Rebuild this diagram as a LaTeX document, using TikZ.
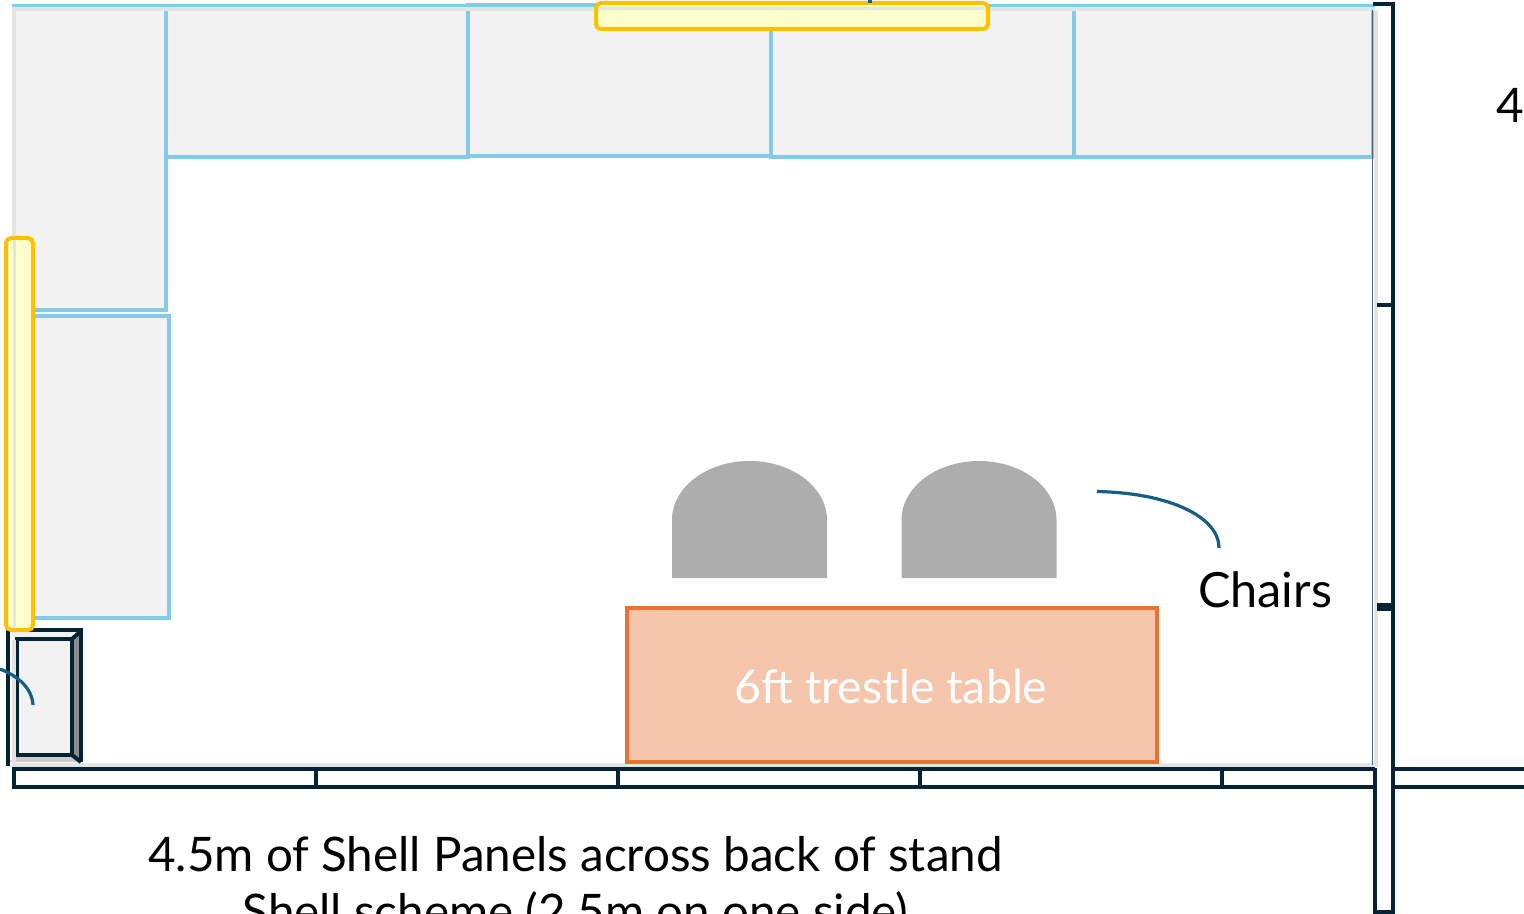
\documentclass[tikz,border=0pt]{standalone}
\usepackage{fontspec}
\setmainfont{Lato}
\definecolor{panelfill}{HTML}{F2F2F2}
\definecolor{panelblue}{HTML}{83CAEB}
\definecolor{wallink}{HTML}{042433}
\definecolor{standgrey}{HTML}{E4E4E4}
\definecolor{goldline}{HTML}{FFC000}
\definecolor{paleyellow}{HTML}{FFFFCC}
\definecolor{chairgrey}{HTML}{ADADAD}
\definecolor{tablefill}{HTML}{F5C6AC}
\definecolor{tableline}{HTML}{E97132}
\definecolor{leader}{HTML}{156082}
\tikzset{
  panel/.style={draw=panelblue,fill=panelfill,line width=2pt},
  standline/.style={draw=standgrey,line width=2pt},
  wall/.style={draw=wallink,line width=2pt},
  divider/.style={draw=wallink,line width=1.75pt},
  shelf/.style={draw=goldline,fill=paleyellow,line width=2pt,rounded corners=2.5pt},
  chairshape/.style={fill=chairgrey,draw=none},
  leaderline/.style={draw=leader,line width=1.6pt},
  label/.style={inner sep=0pt,font=\fontsize{23.8}{28}\selectfont,text=black},
}
\begin{document}
\begin{tikzpicture}[x=0.5pt,y=-0.5pt]
\useasboundingbox (0,0) rectangle (1524,914);
\clip (0,0) rectangle (1524,914);
% shell panels
\draw[panel] (14,6) rectangle (166,310);
\draw[panel] (166,6) rectangle (468,157);
\draw[panel] (468,5) rectangle (771,156);
\draw[panel] (771,6) rectangle (1074,157);
\draw[panel] (1074,6) rectangle (1373,157);
\draw[panel] (14,316) rectangle (169,618);
% stand outline
\draw[standline] (14,8.7) -- (1375,8.7);
\draw[standline] (14,7) -- (14,765) -- (1375.5,765) -- (1375.5,10);
\draw[draw=wallink!70,line width=0.4pt] (1372.5,10) -- (1372.5,765);
% right wall
\draw[wall] (1373,4) -- (1393,4) -- (1393,768);
\draw[wall] (1377,305) -- (1393,305);
\draw[draw=wallink,line width=3.6pt] (1377,607) -- (1393,607);
\draw[wall] (1375,768) -- (1375,912) -- (1393,912) -- (1393,768);
% back wall
\draw[wall] (1375,769) -- (14,769) -- (14,787) -- (1375,787);
\draw[wall] (1393,769) -- (1524,769);
\draw[wall] (1393,787) -- (1524,787);
\foreach \wx in {316,618,920,1222}{
  \draw[divider] (\wx,768) -- (\wx,788);
}
% door
\fill[white] (8,630) rectangle (81,762);
\fill[panelfill] (17,639) rectangle (72,755);
\fill[panelfill] (9,631) -- (81,631) -- (72,639) -- (17,639) -- cycle;
\fill[black!45] (72,639) -- (81,631) -- (81,762) -- (72,755) -- cycle;
\fill[black!20] (17,755) -- (72,755) -- (81,762) -- (9,762) -- cycle;
\draw[wall] (8,766) -- (8,630) -- (81,630) -- (81,762);
\draw[wall] (72,639) -- (81,631) (72,755) -- (81,762);
\draw[wall] (17,639) rectangle (72,755);
\draw[standline] (14,640) -- (14,764);
\coordinate (doorA) at (0,669);
\coordinate (doorB) at (33,705);
\draw[leaderline] (doorA) .. controls (18,676) and (32,688) .. (doorB);
% shelves
\draw[shelf] (596,3) rectangle (988,29);
\draw[draw=standgrey,line width=1.5pt] (598,8.7) -- (986,8.7);
\fill[leader] (868,0) rectangle (872,3);
\draw[shelf] (6,238) rectangle (33,630);
\draw[draw=standgrey,line width=1.5pt] (14,240) -- (14,628);
% chairs
\fill[chairshape] (672,578) -- (672,520) arc[x radius=77.5,y radius=-59,start angle=180,end angle=0] -- (827,578) -- cycle;
\fill[chairshape] (901.5,578) -- (901.5,520) arc[x radius=77.5,y radius=-59,start angle=180,end angle=0] -- (1056.5,578) -- cycle;
% table
\node[draw=tableline,fill=tablefill,line width=2pt,minimum width=265pt,minimum height=77pt,inner sep=0pt,anchor=center] (table) at (891.5,685) {};
\node[inner sep=0pt,text=white,font=\fontsize{23.2}{27}\selectfont] (tabletext) at (891,687) {6ft trestle table};
% labels
\node[label,font=\fontsize{24.3}{28}\selectfont] (chairs) at (1265,590) {Chairs};
\coordinate (chairA) at (1097,491.5);
\coordinate (chairB) at (1219,548);
\draw[leaderline] (chairA) .. controls (1170,493) and (1219,517) .. (chairB);
\node[label,anchor=base west] (four) at (1496,123) {4};
\node[label,anchor=base] (backA) at (575.5,871) {4.5m of Shell Panels across back of stand};
\node[label,anchor=base] (backB) at (575.5,928) {Shell scheme (2.5m on one side)};
\end{tikzpicture}
\end{document}
